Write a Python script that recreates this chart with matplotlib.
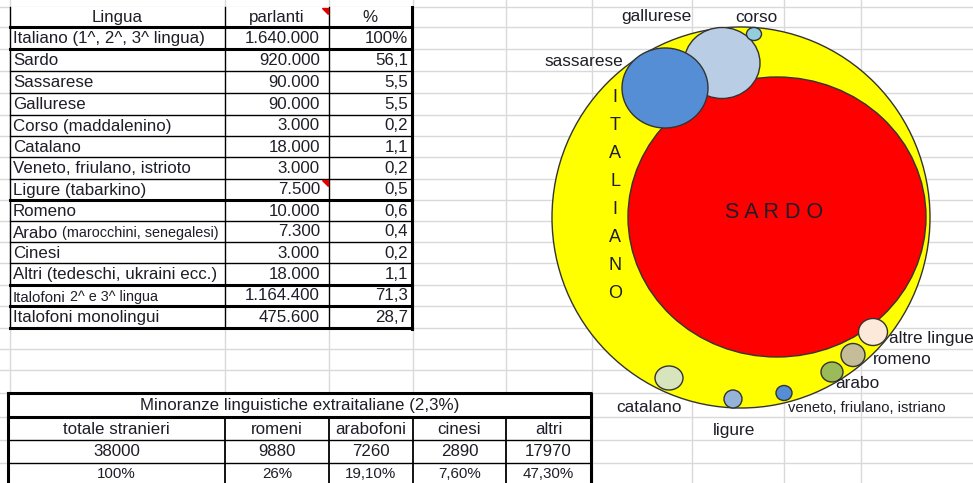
import matplotlib.pyplot as plt
from matplotlib.patches import Ellipse, Polygon

plt.rcParams['font.family'] = ['Liberation Sans', 'DejaVu Sans']

# Upper table: languages spoken in Sardinia
lingue = ["Italiano (1^, 2^, 3^ lingua)", "Sardo", "Sassarese", "Gallurese",
          "Corso (maddalenino)", "Catalano", "Veneto, friulano, istrioto",
          "Ligure (tabarkino)", "Romeno", "Arabo", "Cinesi",
          "Altri (tedeschi, ukraini ecc.)", "Italofoni", "Italofoni monolingui"]
lingue_note = {9: "(marocchini, senegalesi)", 12: "2^ e 3^ lingua"}
parlanti = [1640000, 920000, 90000, 90000, 3000, 18000, 3000, 7500,
            10000, 7300, 3000, 18000, 1164400, 475600]
percentuali = [100, 56.1, 5.5, 5.5, 0.2, 1.1, 0.2, 0.5, 0.6, 0.4, 0.2, 1.1, 71.3, 28.7]

# Lower table: foreign minorities
minoranze_titolo = "Minoranze linguistiche extraitaliane (2,3%)"
minoranze = ["totale stranieri", "romeni", "arabofoni", "cinesi", "altri"]
minoranze_n = [38000, 9880, 7260, 2890, 17970]
minoranze_pct = [100, 26, 19.1, 7.6, 47.3]

# Bubble diagram
bolle = ["italiano", "sardo", "gallurese", "sassarese", "corso", "altre lingue",
         "romeno", "arabo", "veneto, friulano, istriano", "ligure", "catalano"]
colori = ["#FFFF00", "#FF0000", "#B9CDE5", "#558ED5", "#93CDDD", "#FDE9D9",
          "#C4BD97", "#9BBB59", "#558ED5", "#95B3D7", "#D7E4BD"]
# layout of the hand-drawn bubbles (centre x, centre y, width, height) in pixels
bolle_pos = [(741, 217.5, 378, 381), (777, 217, 298, 280), (722, 63, 76, 71),
             (665, 88, 86, 80), (754, 34, 15, 13), (873, 332, 29, 27),
             (853, 355, 24, 23), (832, 372, 22, 20), (784, 393, 16, 15),
             (733, 399, 18, 18), (669, 378, 28, 24)]
# label anchors (x, y, ha, fontsize)
etichette_pos = {"gallurese": (691, 17, "right", 12.4), "corso": (756, 17, "center", 12.4),
                 "sassarese": (623, 61, "right", 12.4),
                 "altre lingue": (889, 339, "left", 12.4), "romeno": (873, 360, "left", 12.4),
                 "arabo": (835, 383, "left", 12.4),
                 "veneto, friulano, istriano": (788, 408, "left", 10.6),
                 "ligure": (734, 431, "center", 12.4), "catalano": (649, 408, "center", 12.4)}


def fmt_it(n):
    return f"{n:,}".replace(",", ".")


def fmt_pct(v):
    return f"{v:.1f}".replace(".", ",")


def fmt_pct2(v):
    if float(v).is_integer():
        return f"{int(v)}%"
    return f"{v:.2f}".replace(".", ",") + "%"


fig = plt.figure(figsize=(9.73, 4.83), dpi=100)
ax = fig.add_axes([0, 0, 1, 1])
ax.set_xlim(0, 973)
ax.set_ylim(483, 0)
ax.axis("off")
renderer = fig.canvas.get_renderer()

txt = "#1e1e28"
grid = "#D9D9D9"

# spreadsheet grid
cols = [10, 225, 329, 413, 506, 592, 692, 784, 861]
rows = [7, 27, 49, 71, 93, 115, 136, 157, 179, 200, 221, 242, 263, 285, 306,
        328, 349, 370, 393, 417, 440, 463]
for x in cols:
    ax.plot([x, x], [0, 483], color=grid, lw=1, zorder=0)
for y in rows:
    ax.plot([0, 973], [y, y], color=grid, lw=1, zorder=0)

# ---------------- upper table ----------------
top = rows[0]
trows = rows[:16]
tx = [10, 225, 329, 412]
ax.add_patch(plt.Rectangle((10, top), 402, trows[-1] - top, color="white", zorder=1))
for x in tx[:3]:
    ax.plot([x, x], [top, trows[-1]], color="black", lw=1, zorder=2)
ax.plot([412, 412], [top, trows[-1] + 1], color="black", lw=2.2, zorder=3)
thick = {1, 2, 9, 13, 14, 15}
for i, y in enumerate(trows[1:], start=1):
    ax.plot([10, 412], [y, y], color="black", lw=2.2 if i in thick else 1, zorder=2)

fs = 12.2
ycen = lambda i: (trows[i] + trows[i + 1]) / 2 + 0.5
ax.text(117, ycen(0), "Lingua", ha="center", va="center", fontsize=fs, color=txt, zorder=4)
ax.text(277, ycen(0), "parlanti", ha="center", va="center", fontsize=fs, color=txt, zorder=4)
ax.text(370, ycen(0), "%", ha="center", va="center", fontsize=fs, color=txt, zorder=4)
for i, (nome, n, p) in enumerate(zip(lingue, parlanti, percentuali)):
    y = ycen(i + 1)
    if i in lingue_note:
        yb = y + 5.5
        f1 = 10.8 if i == 12 else fs
        t = ax.text(13, yb, nome, ha="left", va="baseline", fontsize=f1, color=txt, zorder=4)
        bb = t.get_window_extent(renderer)
        x_end = ax.transData.inverted().transform((bb.x1, bb.y0))[0]
        ax.text(x_end + 4, yb, lingue_note[i], ha="left", va="baseline", fontsize=10.4,
                color=txt, zorder=4)
    else:
        ax.text(13, y, nome, ha="left", va="center", fontsize=fs, color=txt, zorder=4)
    ax.text(320, y, fmt_it(n), ha="right", va="center", fontsize=fs, color=txt, zorder=4)
    ptxt = "100%" if i == 0 else fmt_pct(p)
    ax.text(408, y, ptxt, ha="right", va="center", fontsize=fs, color=txt, zorder=4)

# comment markers
for y0 in (top, trows[8]):
    ax.add_patch(Polygon([(322, y0 + 1), (328, y0 + 1), (328, y0 + 7)], closed=True,
                         color="#E00000", zorder=5))

# ---------------- lower table ----------------
lrows = rows[18:] + [486]
lx = [8, 225, 329, 413, 506, 591]
ax.add_patch(plt.Rectangle((8, lrows[0]), 583, 483 - lrows[0], color="white", zorder=1))
ax.plot([8, 591, 591], [lrows[0], lrows[0], 486], color="black", lw=2.2, zorder=3)
ax.plot([8, 8], [lrows[0], 486], color="black", lw=2.2, zorder=3)
ax.plot([8, 591], [lrows[1], lrows[1]], color="black", lw=2.2, zorder=3)
for y in lrows[2:4]:
    ax.plot([8, 591], [y, y], color="black", lw=1, zorder=2)
for x in lx[1:5]:
    ax.plot([x, x], [lrows[1], 486], color="black", lw=1.3, zorder=2)

ax.text(300, (lrows[0] + lrows[1]) / 2 + 0.5, minoranze_titolo, ha="center", va="center",
        fontsize=fs, color=txt, zorder=4)
for j in range(5):
    xc = (lx[j] + lx[j + 1]) / 2
    ax.text(xc, (lrows[1] + lrows[2]) / 2 + 0.5, minoranze[j], ha="center", va="center",
            fontsize=fs, color=txt, zorder=4)
    ax.text(xc, (lrows[2] + lrows[3]) / 2 + 0.5, str(minoranze_n[j]), ha="center",
            va="center", fontsize=fs, color=txt, zorder=4)
    ax.text(xc, (lrows[3] + lrows[4]) / 2 - 1, fmt_pct2(minoranze_pct[j]), ha="center",
            va="center", fontsize=10.9, color=txt, zorder=4)

# ---------------- bubbles ----------------
for k, (nome, c, (cx, cy, w, h)) in enumerate(zip(bolle, colori, bolle_pos)):
    ax.add_patch(Ellipse((cx, cy), w, h, facecolor=c, edgecolor="#333333", lw=1,
                         zorder=10 + k))

for nome, (x, y, ha, f) in etichette_pos.items():
    ax.text(x, y, nome, ha=ha, va="center", fontsize=f, color=txt, zorder=30)

for i, ch in enumerate("ITALIANO"):
    ax.text(615, 97 + i * 28, ch, ha="center", va="center", fontsize=13, color=txt,
            zorder=30)
ax.text(774, 213, "S A R D O", ha="center", va="center", fontsize=15.5, color=txt,
        zorder=30)

fig.savefig("out.png", dpi=100)
